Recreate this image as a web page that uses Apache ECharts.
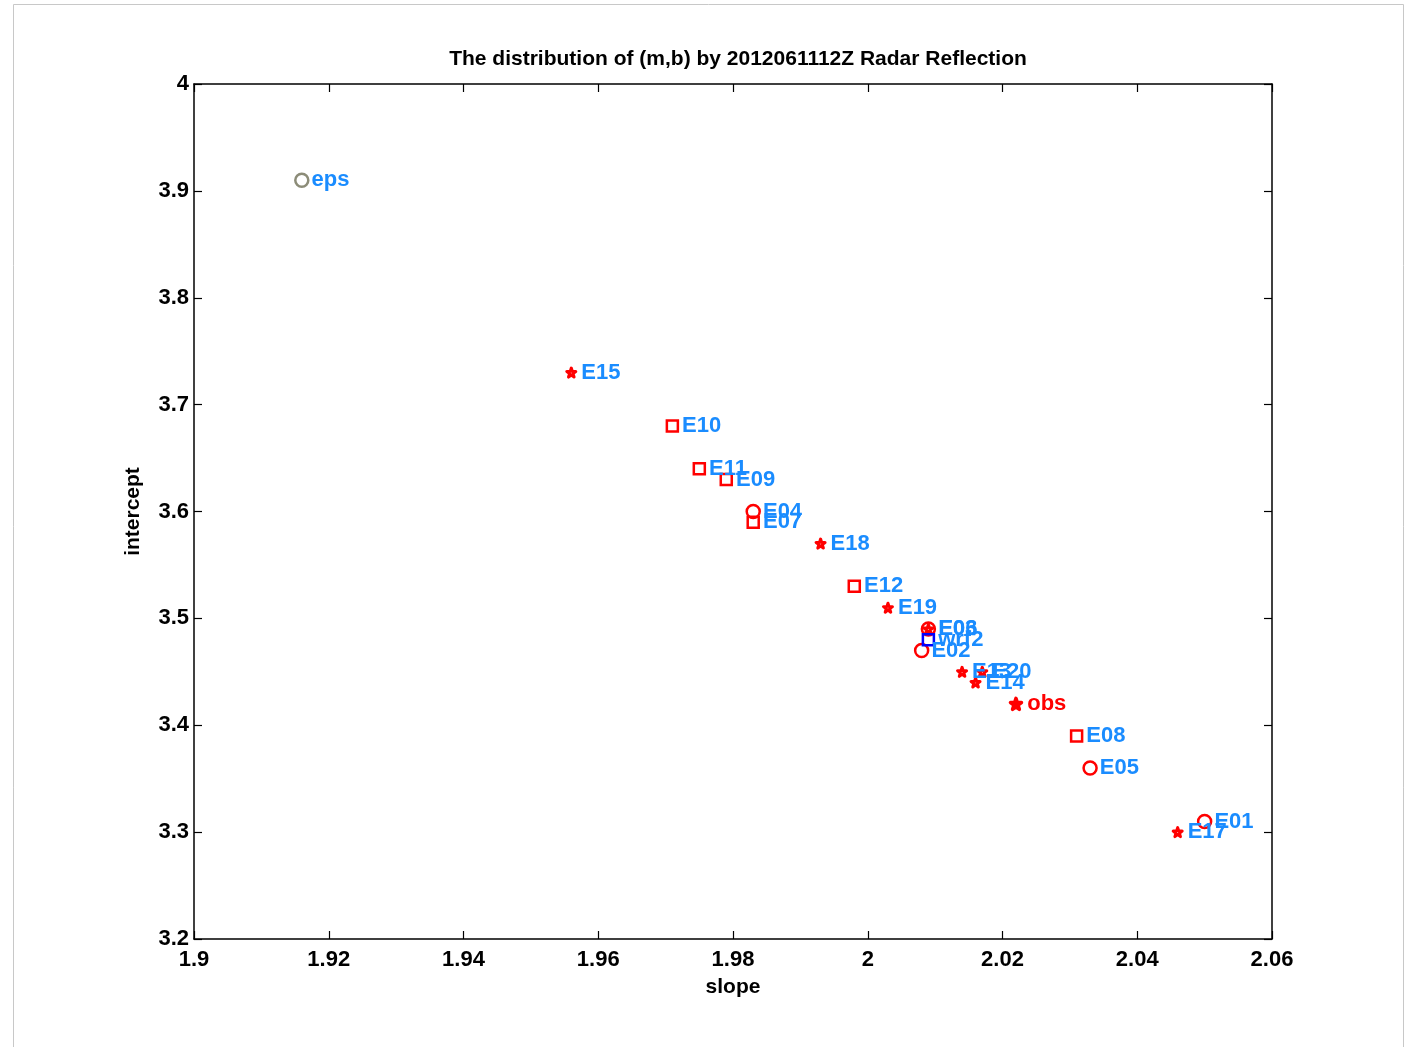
<!DOCTYPE html>
<html>
<head>
<meta charset="utf-8">
<title>(m,b) distribution</title>
<script src="https://cdn.jsdelivr.net/npm/echarts@6/dist/echarts.min.js"></script>
<style>
  html, body { margin: 0; padding: 0; background: #fff; }
  #chart { width: 1409px; height: 1047px; }
</style>
</head>
<body>
<div id="chart"></div>
<script>
// Ensemble members: slope (m) and intercept (b), grouped by marker shape
const circleNames = ['E01', 'E02', 'E03', 'E04', 'E05'];
const circleSlope = [2.050, 2.008, 2.009, 1.983, 2.033];
const circleIntercept = [3.31, 3.47, 3.49, 3.60, 3.36];

const squareNames = ['E07', 'E08', 'E09', 'E10', 'E11', 'E12'];
const squareSlope = [1.983, 2.031, 1.979, 1.971, 1.975, 1.998];
const squareIntercept = [3.59, 3.39, 3.63, 3.68, 3.64, 3.53];

const starNames = ['E06', 'E13', 'E14', 'E15', 'E17', 'E18', 'E19', 'E20'];
const starSlope = [2.009, 2.014, 2.016, 1.956, 2.046, 1.993, 2.003, 2.017];
const starIntercept = [3.49, 3.45, 3.44, 3.73, 3.30, 3.57, 3.51, 3.45];

// Reference points
const epsPoint = { name: 'eps', slope: 1.916, intercept: 3.91 };
const wrfPoint = { name: 'wrf2', slope: 2.009, intercept: 3.48 };
const obsPoint = { name: 'obs', slope: 2.022, intercept: 3.42 };

// Axis ticks
const xTicks = [1.9, 1.92, 1.94, 1.96, 1.98, 2, 2.02, 2.04, 2.06];
const yTicks = [3.2, 3.3, 3.4, 3.5, 3.6, 3.7, 3.8, 3.9, 4];

const STAR = 'path://M0,-1 L0.225,-0.309 L0.951,-0.309 L0.363,0.118 L0.588,0.809 L0,0.382 L-0.588,0.809 L-0.363,0.118 L-0.951,-0.309 L-0.225,-0.309 Z';
const RED = '#ff0000';
const LABEL_BLUE = '#1a8cff';
const FONT = '"Liberation Sans", Arial, sans-serif';

function points(names, xs, ys) {
  return names.map((n, i) => ({ name: n, value: [xs[i], ys[i]] }));
}

function labelStyle(color, distance) {
  return {
    show: true,
    position: 'right',
    distance: distance,
    formatter: p => p.name,
    color: color,
    fontFamily: FONT,
    fontWeight: 'bold',
    fontSize: 22
  };
}

const chart = echarts.init(document.getElementById('chart'));

const axisCommon = {
  type: 'value',
  splitLine: { show: false },
  axisLine: { show: true, lineStyle: { color: '#000', width: 1.5 } },
  axisTick: { show: true, inside: true, length: 8, lineStyle: { color: '#000', width: 1.2 } },
  axisLabel: { fontFamily: FONT, fontWeight: 'bold', fontSize: 22, color: '#000' },
  nameTextStyle: { fontFamily: FONT, fontWeight: 'bold', fontSize: 21, color: '#000' }
};

chart.setOption({
  animation: false,
  backgroundColor: '#fff',
  title: {
    text: 'The distribution of (m,b) by 2012061112Z Radar Reflection',
    left: 733,
    textAlign: 'center',
    top: 44,
    textStyle: { fontFamily: FONT, fontWeight: 'bold', fontSize: 21, color: '#000' }
  },
  graphic: [{
    type: 'rect',
    shape: { x: 13.5, y: 4.5, width: 1390, height: 1080 },
    style: { fill: 'none', stroke: '#c8c8c8', lineWidth: 1 },
    silent: true
  }],
  grid: { left: 194, right: 137, top: 84, bottom: 108 },
  xAxis: [
    Object.assign({}, axisCommon, {
      min: xTicks[0], max: xTicks[xTicks.length - 1], interval: 0.02,
      position: 'bottom',
      name: 'slope', nameLocation: 'middle', nameGap: 38,
      axisLabel: Object.assign({}, axisCommon.axisLabel, { margin: 10 })
    }),
    Object.assign({}, axisCommon, {
      min: xTicks[0], max: xTicks[xTicks.length - 1], interval: 0.02,
      position: 'top',
      axisLabel: { show: false }
    })
  ],
  yAxis: [
    Object.assign({}, axisCommon, {
      min: yTicks[0], max: yTicks[yTicks.length - 1], interval: 0.1,
      position: 'left',
      name: 'intercept', nameLocation: 'middle', nameGap: 50,
      axisLabel: Object.assign({}, axisCommon.axisLabel, { margin: 5 })
    }),
    Object.assign({}, axisCommon, {
      min: yTicks[0], max: yTicks[yTicks.length - 1], interval: 0.1,
      position: 'right',
      axisLabel: { show: false }
    })
  ],
  series: [
    {
      type: 'scatter', name: 'eps',
      data: [{ name: epsPoint.name, value: [epsPoint.slope, epsPoint.intercept] }],
      symbol: 'circle', symbolSize: 13,
      itemStyle: { color: '#fff', borderColor: '#8c8c78', borderWidth: 2.5, opacity: 1 },
      label: labelStyle(LABEL_BLUE, 2)
    },
    {
      type: 'scatter', name: 'circles',
      data: points(circleNames, circleSlope, circleIntercept),
      symbol: 'circle', symbolSize: 13,
      itemStyle: { color: 'transparent', borderColor: RED, borderWidth: 2.5, opacity: 1 },
      label: labelStyle(LABEL_BLUE, 2)
    },
    {
      type: 'scatter', name: 'squares',
      data: points(squareNames, squareSlope, squareIntercept),
      symbol: 'rect', symbolSize: 11,
      itemStyle: { color: 'transparent', borderColor: RED, borderWidth: 2.5, opacity: 1 },
      label: labelStyle(LABEL_BLUE, 3)
    },
    {
      type: 'scatter', name: 'stars',
      data: points(starNames, starSlope, starIntercept),
      symbol: STAR, symbolSize: 9,
      itemStyle: { color: 'transparent', borderColor: RED, borderWidth: 3, borderJoin: 'round', opacity: 1 },
      label: labelStyle(LABEL_BLUE, 4)
    },
    {
      type: 'scatter', name: 'wrf',
      data: [{ name: wrfPoint.name, value: [wrfPoint.slope, wrfPoint.intercept] }],
      symbol: 'rect', symbolSize: 11,
      itemStyle: { color: 'transparent', borderColor: '#0000ff', borderWidth: 2.5, opacity: 1 },
      label: labelStyle(LABEL_BLUE, 3)
    },
    {
      type: 'scatter', name: 'obs',
      data: [{ name: obsPoint.name, value: [obsPoint.slope, obsPoint.intercept] }],
      symbol: STAR, symbolSize: 11,
      itemStyle: { color: RED, borderColor: RED, borderWidth: 3.5, borderJoin: 'round', opacity: 1 },
      label: labelStyle(RED, 4)
    }
  ]
});
</script>
</body>
</html>
